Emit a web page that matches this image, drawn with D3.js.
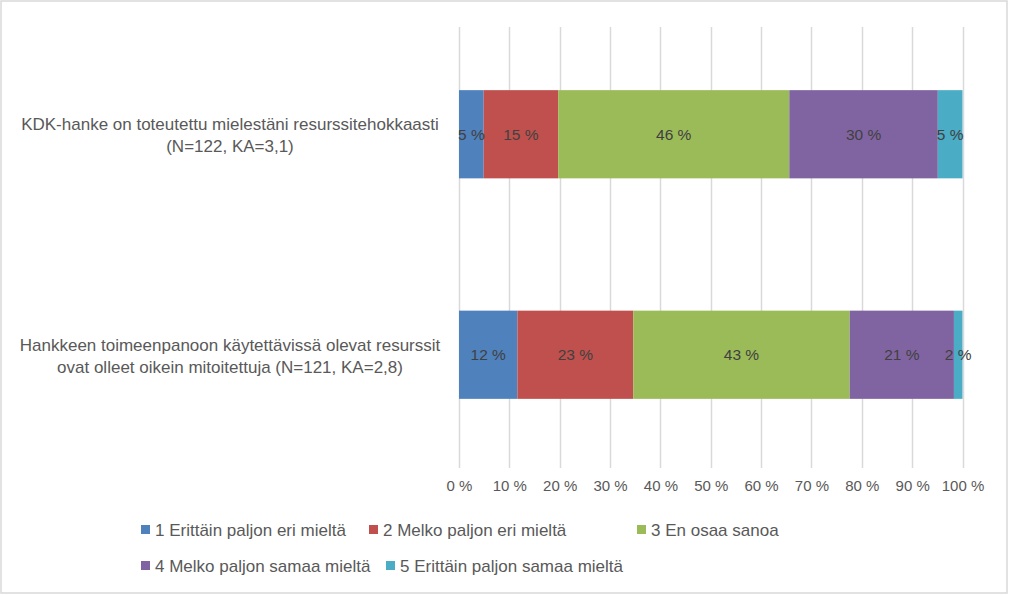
<!DOCTYPE html>
<html>
<head>
<meta charset="utf-8">
<script src="https://cdn.jsdelivr.net/npm/d3@7"></script>
<style>
  html, body { margin: 0; padding: 0; background: #fff; }
  svg { display: block; }
  text { font-family: "Liberation Sans", Arial, sans-serif; }
</style>
</head>
<body>
<svg id="chart" width="1009" height="595"></svg>
<script>
// ---- data ----
const categories = [
  ["KDK-hanke on toteutettu mielestäni resurssitehokkaasti", "(N=122, KA=3,1)"],
  ["Hankkeen toimeenpanoon käytettävissä olevat resurssit", "ovat olleet oikein mitoitettuja (N=121, KA=2,8)"]
];
const seriesNames = [
  "1 Erittäin paljon eri mieltä",
  "2 Melko paljon eri mieltä",
  "3 En osaa sanoa",
  "4 Melko paljon samaa mieltä",
  "5 Erittäin paljon samaa mieltä"
];
const values1 = [4.9, 14.8, 45.9, 29.5, 4.9];
const values2 = [11.6, 23.0, 43.0, 20.7, 1.7];
const tickValues = [0, 10, 20, 30, 40, 50, 60, 70, 80, 90, 100];
const colors = ["#4f81bd", "#c0504d", "#9bbb59", "#8064a2", "#4bacc6"];

const rows = [values1, values2];

const svg = d3.select("#chart");

// outer border
svg.append("rect").attr("x", 1).attr("y", 1).attr("width", 1006).attr("height", 592)
  .attr("fill", "#fff").attr("stroke", "#d9d9d9").attr("stroke-width", 1.5);

const x = d3.scaleLinear().domain([0, 100]).range([459, 962.5]);
const y = d3.scaleBand().domain(d3.range(categories.length)).range([24, 465])
  .paddingInner(0.6).paddingOuter(0.3);

// gridlines
svg.append("g").selectAll("line").data(tickValues).join("line")
  .attr("x1", d => Math.round(x(d)) + 0.5).attr("x2", d => Math.round(x(d)) + 0.5)
  .attr("y1", 27).attr("y2", 468)
  .attr("stroke", "#d9d9d9").attr("stroke-width", 1.5);

// axis
const axis = d3.axisBottom(x).tickValues(tickValues).tickSize(0).tickPadding(0)
  .tickFormat(d => d + " %");
const gAxis = svg.append("g").attr("transform", "translate(0,480)").call(axis);
gAxis.select(".domain").remove();
gAxis.selectAll("text").attr("font-size", 15).attr("fill", "#595959")
  .attr("font-family", "Liberation Sans, Arial, sans-serif");

// stacked bars
rows.forEach((vals, i) => {
  let cum = 0;
  const segs = vals.map((v, k) => { const s = { k, v, x0: cum, x1: cum + v }; cum += v; return s; });
  const g = svg.append("g");
  g.selectAll("rect").data(segs).join("rect")
    .attr("x", d => x(d.x0)).attr("width", d => x(d.x1) - x(d.x0))
    .attr("y", y(i)).attr("height", y.bandwidth())
    .attr("fill", d => colors[d.k]);
  g.selectAll("text").data(segs).join("text")
    .attr("x", d => (x(d.x0) + x(d.x1)) / 2)
    .attr("y", y(i) + y.bandwidth() / 2)
    .attr("dy", "0.35em")
    .attr("text-anchor", "middle")
    .attr("font-size", 15.5).attr("fill", "#404040")
    .text(d => Math.round(d.v) + " %");
  // category label
  const t = svg.append("text").attr("text-anchor", "middle").attr("font-size", 17)
    .attr("fill", "#595959");
  categories[i].forEach((line, j) => {
    t.append("tspan").attr("x", 230)
      .attr("y", y(i) + y.bandwidth() / 2 - 4 + j * 22)
      .text(line);
  });
});

// legend (layout: item left edges per row)
const legend = svg.append("g");
const legendLayout = [
  { y: 530, items: [[0, 141], [1, 369], [2, 637]] },
  { y: 566, items: [[3, 141], [4, 386]] }
];
legendLayout.forEach(row => {
  row.items.forEach(([k, lx]) => {
    legend.append("rect").attr("x", lx).attr("y", row.y - 5).attr("width", 9).attr("height", 9)
      .attr("fill", colors[k]);
    legend.append("text").attr("x", lx + 14).attr("y", row.y).attr("dy", "0.35em")
      .attr("font-size", 17).attr("fill", "#595959").text(seriesNames[k]);
  });
});
</script>
</body>
</html>
